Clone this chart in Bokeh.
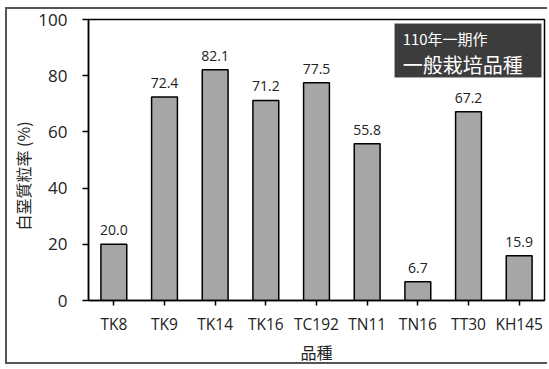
from bokeh.plotting import figure
from bokeh.models import (ColumnDataSource, FactorRange, Range1d, BoxAnnotation,
                          Label, FixedTicker)
from bokeh.core.properties import value
from bokeh.embed import file_html
from bokeh.resources import INLINE

# chalky grain rate per rice variety
varieties = ["TK8", "TK9", "TK14", "TK16", "TC192", "TN11", "TN16", "TT30", "KH145"]
chalky_rate = [20.0, 72.4, 82.1, 71.2, 77.5, 55.8, 6.7, 67.2, 15.9]
value_labels = [f"{v:.1f}" for v in chalky_rate]
y_ticks = [0, 20, 40, 60, 80, 100]

CJK = "Noto Sans CJK TC"
LATIN = "Open Sans"

src = ColumnDataSource(dict(x=varieties, top=chalky_rate, label=value_labels))

p = figure(width=542, height=357, x_range=FactorRange(*varieties, range_padding=0),
           y_range=Range1d(0, 100), output_backend="svg", toolbar_location=None,
           min_border_left=81, min_border_right=5, min_border_top=10, min_border_bottom=66,
           styles={"margin-left": "5px", "margin-top": "7px",
                   "border-left": "2px solid #555555",
                   "border-top": "2px solid #555555",
                   "border-bottom": "2px solid #555555"})

p.vbar(x="x", top="top", width=0.51, source=src, fill_color="#a6a6a6",
       line_color="black", line_width=1.5)

p.text(x="x", y="top", text="label", source=src, y_offset=-14,
       text_align="center", text_baseline="alphabetic", text_font_size="14px",
       text_color="#222222", text_font=value(LATIN))

p.grid.visible = False
p.outline_line_color = "black"
p.outline_line_width = 1.5

p.yaxis.ticker = FixedTicker(ticks=y_ticks)
p.xaxis.axis_label = "品種"
# two ideographic spaces push the vertical title slightly below the frame centre
p.yaxis.axis_label = "白堊質粒率 (%)\u3000\u3000"

for ax in (p.xaxis[0], p.yaxis[0]):
    ax.axis_line_color = "black"
    ax.axis_line_width = 1.5
    ax.major_tick_line_color = "black"
    ax.major_tick_line_width = 1.5
    ax.minor_tick_line_color = None
    ax.major_tick_in = 0
    ax.major_label_text_font = LATIN
    ax.major_label_text_color = "#222222"
    ax.axis_label_text_font = CJK
    ax.axis_label_text_font_style = "normal"
    ax.axis_label_text_color = "#222222"
    ax.axis_label_text_font_size = "16px"

p.yaxis.major_tick_out = 6
p.yaxis.major_label_text_font_size = "17px"
p.yaxis.major_label_standoff = 15
p.yaxis.axis_label_standoff = 0

p.xaxis.major_tick_out = 5
p.xaxis.major_label_text_font_size = "15.5px"
p.xaxis.major_label_standoff = 7
p.xaxis.axis_label_standoff = 2

# title box in the upper right corner
p.add_layout(BoxAnnotation(left=6.04, right=8.94, bottom=79.4, top=98.6,
                           fill_color="#3c3c3c", fill_alpha=1.0,
                           line_color="#bbbbbb", line_width=1))
p.add_layout(Label(x=6.2, y=93.2, text="110年一期作", text_color="white",
                   text_font=CJK, text_font_size="15px", text_baseline="middle"))
p.add_layout(Label(x=6.2, y=84.0, text="一般栽培品種", text_color="white",
                   text_font=CJK, text_font_size="20px", text_baseline="middle"))

open("out.html", "w").write(file_html(p, INLINE))
